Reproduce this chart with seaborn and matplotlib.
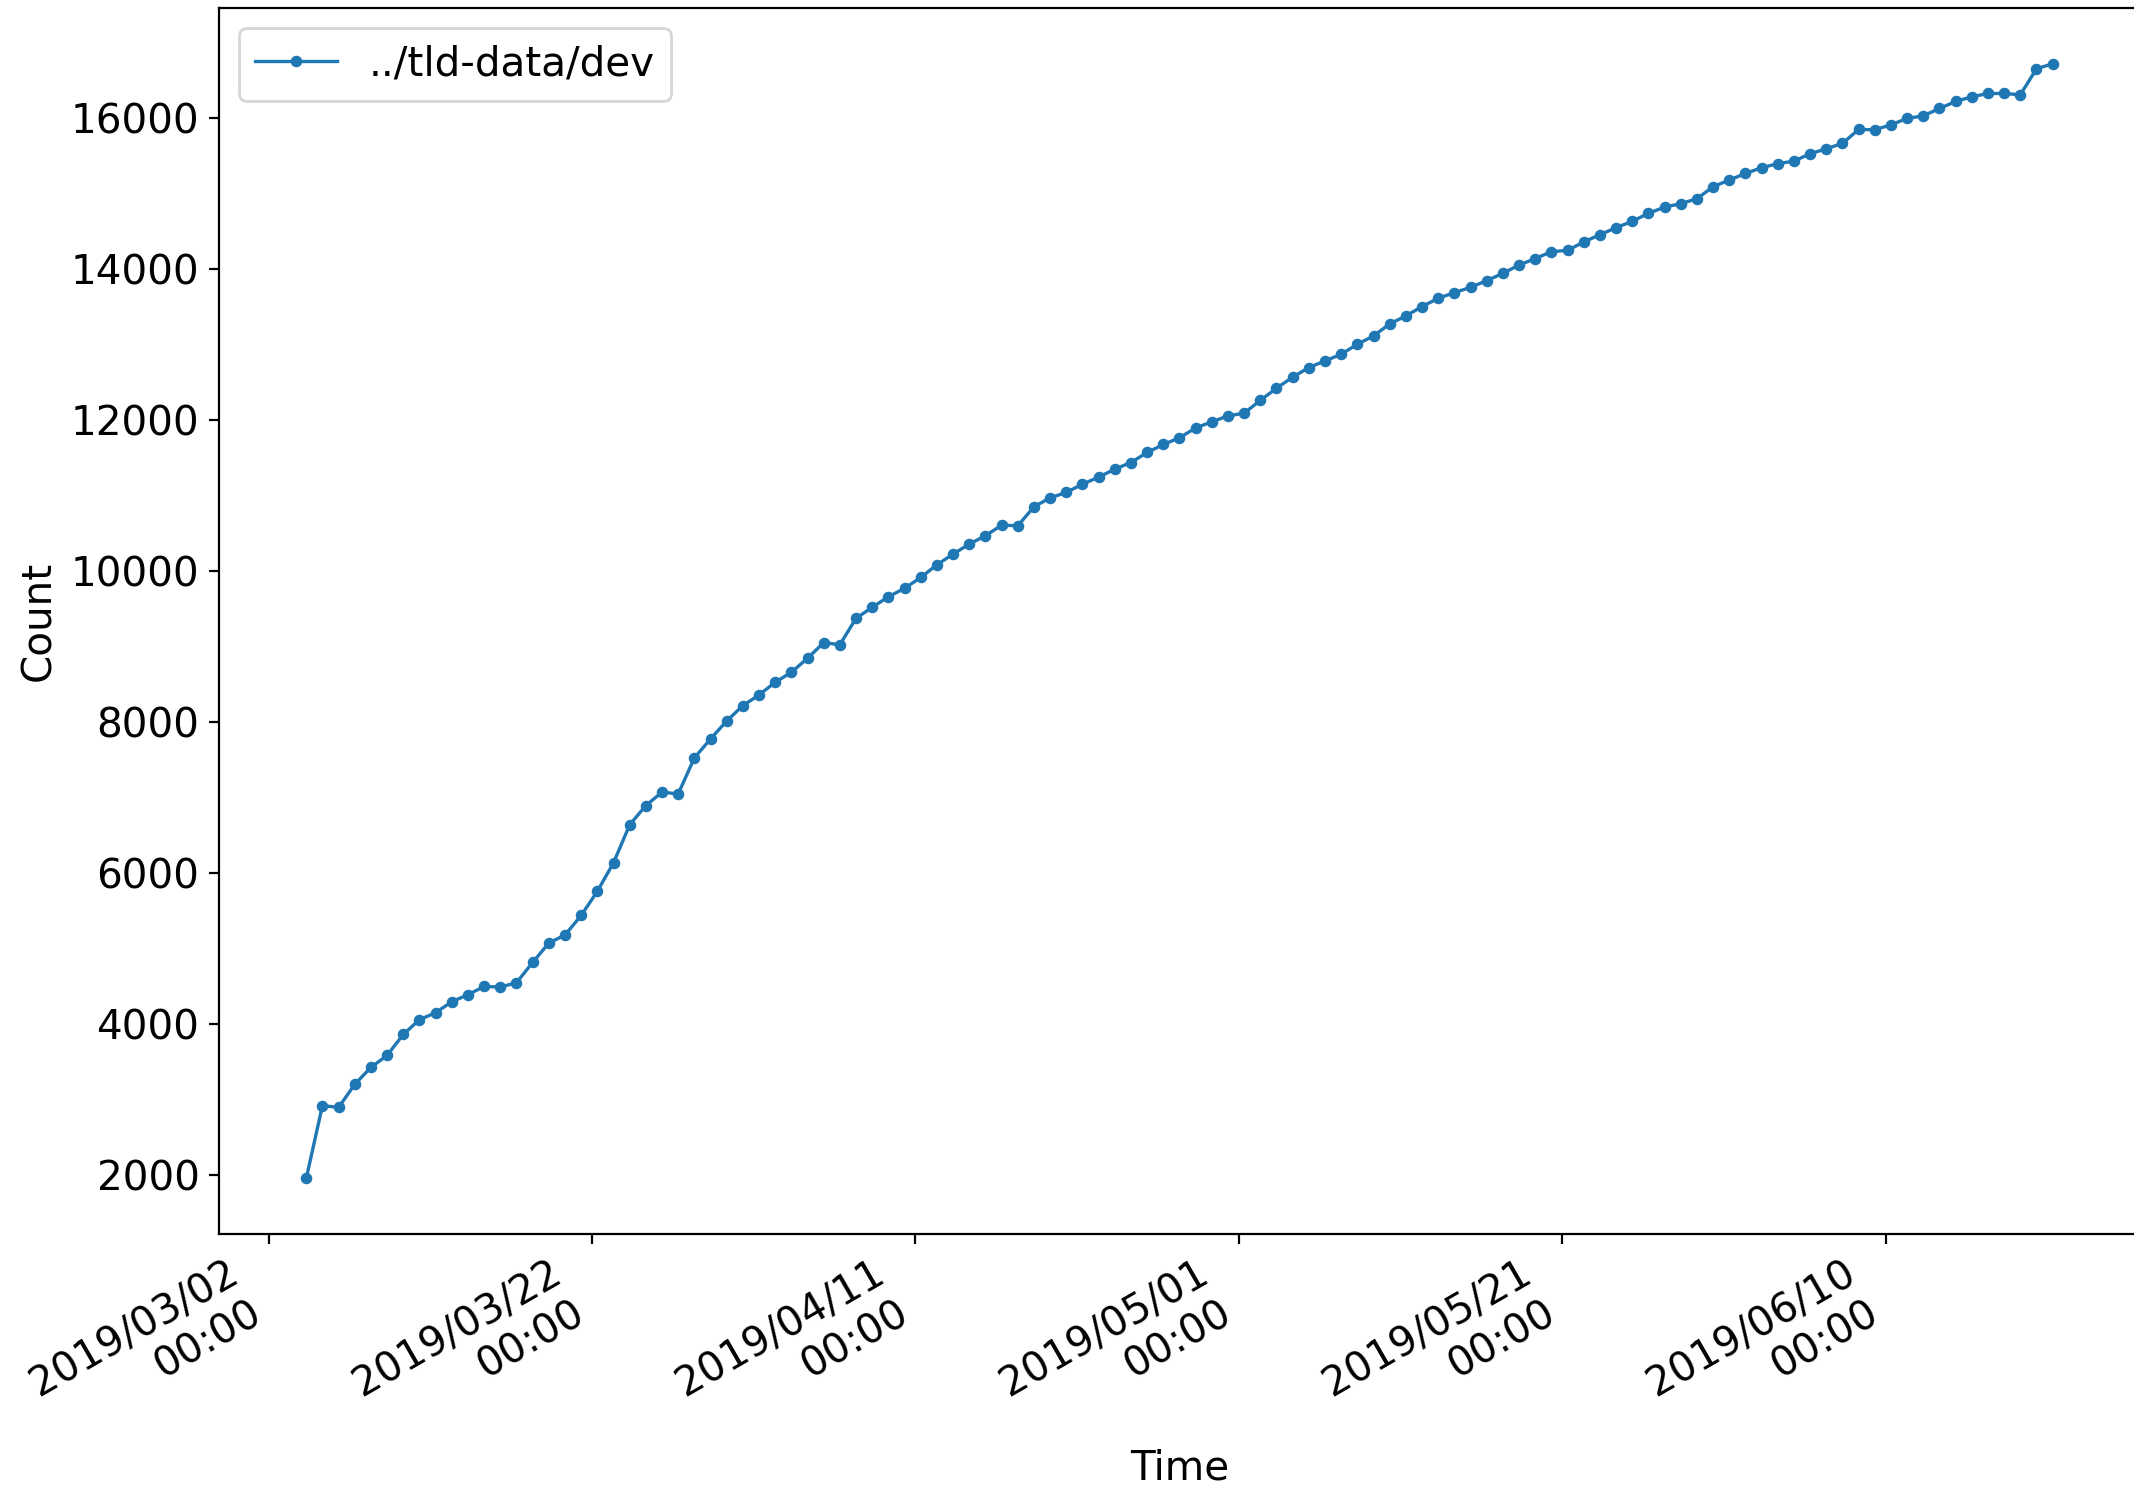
import datetime as dt

import matplotlib
matplotlib.use("Agg")
import matplotlib.pyplot as plt
import matplotlib.dates as mdates
import numpy as np
import pandas as pd
import seaborn as sns

# Daily snapshot counts for the dev data directory
start_time = dt.datetime(2019, 3, 4, 8, 0)
counts = [
    1950, 2915, 2890, 3196, 3421, 3580, 3858, 4053, 4146, 4291,
    4384, 4494, 4486, 4543, 4812, 5069, 5175, 5435, 5755, 6132,
    6636, 6892, 7069, 7046, 7523, 7775, 8013, 8216, 8358, 8526,
    8658, 8844, 9051, 9024, 9374, 9519, 9660, 9771, 9915, 10083,
    10225, 10358, 10468, 10609, 10600, 10852, 10971, 11042, 11152, 11245,
    11351, 11439, 11572, 11678, 11766, 11898, 11978, 12057, 12093, 12263,
    12424, 12570, 12698, 12786, 12874, 13007, 13117, 13276, 13382, 13506,
    13616, 13691, 13761, 13850, 13947, 14057, 14142, 14234, 14251, 14362,
    14459, 14552, 14636, 14742, 14825, 14870, 14936, 15095, 15183, 15271,
    15347, 15400, 15435, 15532, 15598, 15669, 15854, 15850, 15916, 16000,
    16035, 16132, 16225, 16287, 16331, 16331, 16314, 16658, 16725,
]
series_label = "../tld-data/dev"
tick_start = "2019-03-02"
tick_step_days = 20
tick_count = 6

times = pd.date_range(start_time, periods=len(counts), freq="D")
df = pd.DataFrame({"Time": times, "Count": counts})

plt.rcParams["font.family"] = ["DejaVu Sans"]
plt.rcParams["font.size"] = 14.6

fig = plt.figure(figsize=(10.67, 7.435), dpi=200)
ax = fig.add_axes([0.1026, 0.1701, 0.9002, 0.8245])

color = "#1f77b4"
sns.lineplot(
    data=df, x="Time", y="Count", ax=ax, label=series_label,
    color=color, marker=".", markersize=6.3, linewidth=1.2,
    markeredgecolor=color, markeredgewidth=1.0,
)

ax.set_xticks(pd.date_range(tick_start, periods=tick_count,
                            freq=f"{tick_step_days}D"))
ax.xaxis.set_major_formatter(mdates.DateFormatter("%Y/%m/%d\n%H:%M"))
for lbl in ax.get_xticklabels():
    lbl.set_rotation(30)
    lbl.set_horizontalalignment("right")

ax.set_xlabel("Time", labelpad=1.5)
ax.set_ylabel("Count")
ax.legend(loc="upper left")

fig.savefig("out.png", dpi=200)
